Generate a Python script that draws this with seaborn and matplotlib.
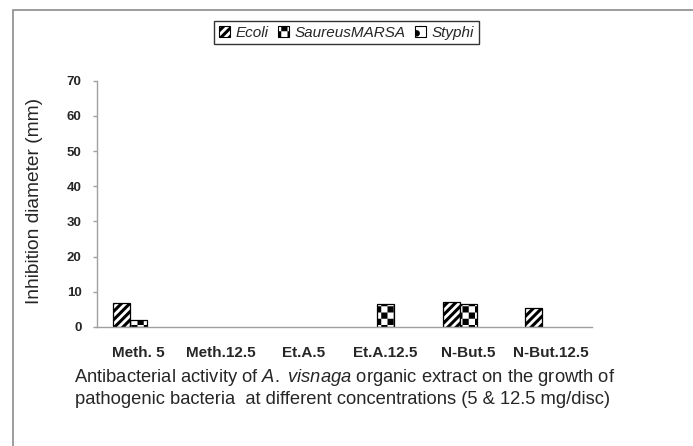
import matplotlib
matplotlib.use('Agg')
import matplotlib.pyplot as plt
import matplotlib.hatch as mhatch
from matplotlib.patches import Patch, Rectangle
from matplotlib.path import Path
import numpy as np
import pandas as pd
import seaborn as sns

categories = ['Meth. 5', 'Meth.12.5', 'Et.A.5', 'Et.A.12.5', 'N-But.5', 'N-But.12.5']
series = ['Ecoli', 'SaureusMARSA', 'Styphi']
ecoli = [6.8, 0, 0, 0, 7.1, 5.5]
saureus = [1.9, 0, 0, 6.5, 6.4, 0]
styphi = [0, 0, 0, 0, 0, 0]
yticks = [0, 10, 20, 30, 40, 50, 60, 70]

# 'o' is swapped for a checker board below
hatches = ['////', 'oo', '.']
HATCH_LW = 2.2


class CheckerHatch(mhatch.HatchPatternBase):
    # agg fills closed hatch paths, so filled squares give a checker board
    def __init__(self, hatch, density):
        self.n = hatch.count('o') * 8
        self.cells = [(i, j) for i in range(self.n) for j in range(self.n) if (i + j) % 2 == 0]
        self.num_vertices = len(self.cells) * 5

    def set_vertices_and_codes(self, vertices, codes):
        step = 1.0 / self.n
        inset = HATCH_LW / 72 / 2
        k = 0
        for i, j in self.cells:
            x0, x1 = i * step + inset, (i + 1) * step - inset
            y0, y1 = j * step + inset, (j + 1) * step - inset
            vertices[k:k + 5] = [[x0, y0], [x1, y0], [x1, y1], [x0, y1], [x0, y0]]
            codes[k:k + 5] = [Path.MOVETO, Path.LINETO, Path.LINETO, Path.LINETO, Path.CLOSEPOLY]
            k += 5


mhatch._hatch_types = [t for t in mhatch._hatch_types if t is not mhatch.SmallCircles] + [CheckerHatch]

sns.set_style('white')
plt.rcParams['font.family'] = ['Liberation Sans', 'DejaVu Sans']
plt.rcParams['mathtext.fontset'] = 'custom'
plt.rcParams['mathtext.rm'] = 'Liberation Sans'
plt.rcParams['mathtext.it'] = 'Liberation Sans:italic'
plt.rcParams['hatch.linewidth'] = HATCH_LW
plt.rcParams['hatch.color'] = 'black'

df = pd.DataFrame({
    'group': categories * 3,
    'bacteria': np.repeat(series, len(categories)),
    'diameter': ecoli + saureus + styphi,
})

fig = plt.figure(figsize=(6.93, 4.46), dpi=100)
fig.patches.append(Rectangle((13 / 693, -0.1), 1.2, 1.1 - 10 / 446, transform=fig.transFigure,
                             fill=False, edgecolor='#8c8c8c', linewidth=1.2))
ax = fig.add_axes([0.140, 0.267, 0.714, 0.552])

sns.barplot(data=df, x='group', y='diameter', hue='bacteria', hue_order=series, order=categories,
            palette=['white'] * 3, saturation=1, edgecolor='black', linewidth=0.9,
            width=0.62, errorbar=None, legend=False, ax=ax)

for cont, h in zip(ax.containers, hatches):
    for bar in cont:
        bar.set_hatch(h)
        if bar.get_height() == 0:
            bar.set_visible(False)

ax.set_ylim(0, 70)
ax.set_yticks(yticks)
ax.set_xlim(-0.5, len(categories) - 0.5)
ax.set_xticks(np.arange(-0.5, len(categories), 1), minor=True)
ax.set_xlabel('')
ax.set_ylabel('')
sns.despine(ax=ax)
for s in ['left', 'bottom']:
    ax.spines[s].set_color('#a0a0a0')
    ax.spines[s].set_linewidth(1.0)
ax.tick_params(axis='x', which='major', length=0, pad=14)
ax.tick_params(axis='x', which='minor', length=5, color='#a0a0a0', width=1)
ax.tick_params(axis='y', length=3, color='#a0a0a0', width=1, pad=8, left=True)
plt.setp(ax.get_xticklabels(), fontweight='bold', fontsize=11)
plt.setp(ax.get_yticklabels(), fontweight='bold', fontsize=9.5)

fig.text(34.5 / 693, 1 - 201 / 446, 'Inhibition diameter (mm)', rotation=90,
         ha='center', va='center', fontsize=13.8)

handles = [Patch(facecolor='white', edgecolor='black', linewidth=0.8, hatch=h) for h in hatches]
leg = fig.legend(handles, series, loc='upper center', bbox_to_anchor=(0.5, 1 - 21 / 446), ncol=3,
                 frameon=True, fancybox=False, edgecolor='black', handlelength=0.7, handleheight=0.7,
                 handletextpad=0.4, columnspacing=0.6, borderpad=0.3, borderaxespad=0,
                 prop={'style': 'italic', 'size': 11})
leg.get_frame().set_linewidth(1.0)

fig.text(0.497, 1 - 377 / 446, 'Antibacterial activity of $\\mathit{A.}$ $\\mathit{visnaga}$ organic extract on the growth of',
         ha='center', va='center', fontsize=13.2)
fig.text(0.495, 1 - 400 / 446, 'pathogenic bacteria  at different concentrations (5 & 12.5 mg/disc)',
         ha='center', va='center', fontsize=13.2)

plt.savefig('out.png', dpi=100)
plt.close()
